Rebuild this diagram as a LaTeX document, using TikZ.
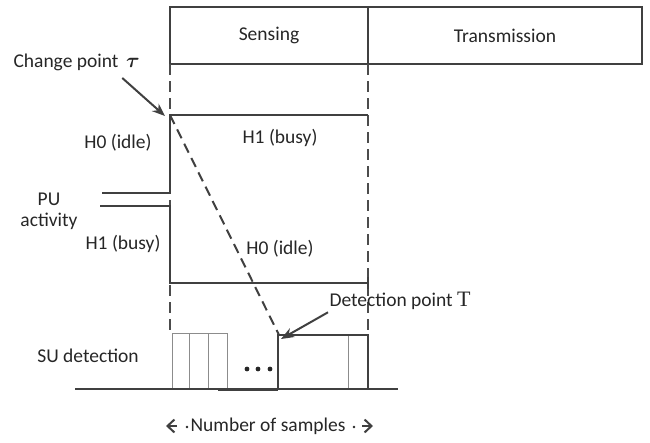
\documentclass[tikz,border=0pt]{standalone}
\usepackage{amsmath}
\usepackage{fontspec}
\setmainfont{Carlito}
\newfontfamily\pointfont{Liberation Serif}
\usetikzlibrary{arrows.meta,positioning}

\begin{document}
\begin{tikzpicture}[x=1pt,y=-1pt,
    lbl/.style={font=\fontsize{19.5}{22}\selectfont, text=black!85},
    phasebox/.style={draw=black!75, line width=1.6pt, inner sep=0pt, outer sep=0pt, minimum height=57pt, lbl},
    sig/.style={draw=black!75, line width=2pt},
    bound/.style={draw=black!70, line width=1.6pt, dash pattern=on 11pt off 6pt},
    slot/.style={draw=black!45, line width=1pt},
    pointer/.style={sig, -{Stealth[length=13pt,width=10pt]}}]
    \useasboundingbox (0,0) rectangle (650,442);
    % sensing and transmission phases
    \node[phasebox, minimum width=198pt, anchor=north west] (sense) at (170,7) {Sensing};
    \node[phasebox, minimum width=274pt, anchor=north west] (trans) at (sense.north east) {Transmission};
    \coordinate (tau) at (170,115);
    \coordinate (det) at (279,335);
    \draw[bound] (sense.south west) -- (170,333);
    \draw[bound] (sense.south east) -- (368,333);
    % PU activity
    \draw[sig] (102,193) -- (170,193) -- (tau) -- (368,115);
    \draw[sig] (100,206) -- (170,206) -- (170,283) -- (368,283);
    \draw[sig] (368,277) -- (368,289);
    \draw[sig, dash pattern=on 10pt off 6pt] (tau) -- (det);
    \node[lbl, anchor=west] (chg) at (10,62) {Change point \,$\boldsymbol{\tau}$};
    \draw[pointer] ([xshift=-21pt,yshift=-4pt]chg.south east) -- ([xshift=-5pt,yshift=-1pt]tau);
    \node[lbl] (idle0) at (118,143) {H0 (idle)};
    \node[lbl] (busy1) at (280,138) {H1 (busy)};
    \node[lbl] (pu) at (49,199) {PU};
    \node[lbl] (act) at (49,221) {activity};
    \node[lbl] (busy0) at (123,244) {H1 (busy)};
    \node[lbl] (idle1) at (280,249) {H0 (idle)};
    % SU detection
    \node[lbl] (su) at (88,356) {SU detection};
    \draw[slot] (172,333) rectangle (227,389);
    \draw[slot] (189,333) -- (189,389);
    \draw[slot] (208,333) -- (208,389);
    \draw[slot] (348,335) -- (348,389);
    \draw[sig] (278,389) -- (278,335) -- (368,335) -- (368,389);
    \draw[sig, line width=3pt] (218,389) -- (278,389);
    \draw[sig, line width=2.2pt] (75,389) -- (398,389);
    \foreach \x in {247,258,270}
        \fill[black!85] (\x,369) circle (2.4pt);
    \node[lbl, anchor=west] (dpt) at (326,301) {Detection point {\pointfont\fontsize{22}{22}\selectfont T}};
    \draw[pointer] ([xshift=2pt,yshift=1pt]dpt.south west) -- ([xshift=2pt,yshift=-4pt]det);
    % number of samples
    \node[lbl] (ns) at (268,426) {Number of samples};
    \coordinate (nsl) at (166,426);
    \coordinate (nsr) at (373,426);
    \draw[sig, -{Straight Barb[length=7pt,width=13pt]}] ([xshift=11pt]nsl) -- (nsl);
    \draw[sig, -{Straight Barb[length=7pt,width=13pt]}] ([xshift=-11pt]nsr) -- (nsr);
    \fill[black!85] (187,427) circle (1.3pt) (354,427) circle (1.3pt);
\end{tikzpicture}
\end{document}
